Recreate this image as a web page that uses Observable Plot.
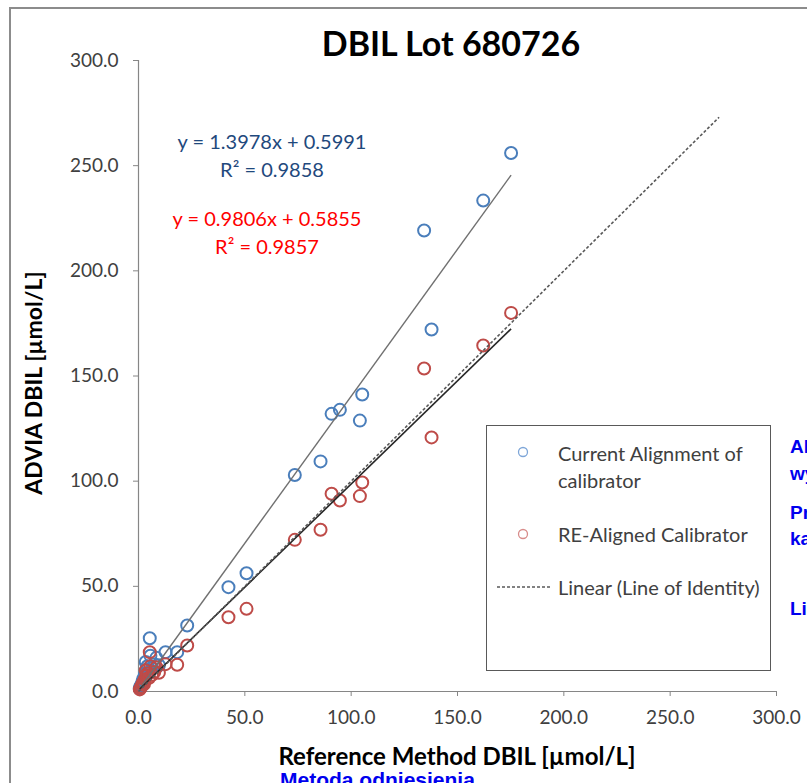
<!DOCTYPE html>
<html><head><meta charset="utf-8">
<script src="https://cdn.jsdelivr.net/npm/d3@7"></script>
<script src="https://cdn.jsdelivr.net/npm/@observablehq/plot@0.6"></script>
<style>
html,body{margin:0;padding:0;background:#fff;}
#wrap{position:relative;width:807px;height:783px;overflow:hidden;font-family:Lato,"Open Sans",sans-serif;}
.abs{position:absolute;white-space:nowrap;line-height:1;}
.pl{color:#0000ee;font-family:"Liberation Sans",Arial,sans-serif;font-weight:bold;font-size:19px;}
</style></head>
<body><div id="wrap"></div>
<script>
// Reference method DBIL (µmol/L), shared by both series
const refX = [175.2,162.1,134.3,137.8,105.2,94.7,90.8,104.1,85.6,73.5,50.8,42.3,22.9,18.2,12.7,5.3,
  0.6,1.0,1.4,1.8,2.2,2.6,3.0,3.4,3.8,4.2,5.0,5.6,6.4,7.4,8.4,9.6];
// ADVIA DBIL, current alignment of calibrator
const currentY = [256.0,233.4,219.2,172.1,141.2,133.9,132.0,128.8,109.4,102.9,56.2,49.6,31.4,18.7,18.7,25.3,
  1.5,2.5,3.0,4.5,6.0,5.0,8.0,14.0,10.5,12.0,9.0,17.0,11.0,13.0,16.0,12.5];
// ADVIA DBIL, re-aligned calibrator
const realignedY = [180.0,164.5,153.6,120.8,99.4,90.8,94.0,92.9,76.9,72.1,39.3,35.3,21.9,12.7,13.0,18.7,
  1.0,1.8,2.3,3.4,4.3,3.6,5.8,10.0,7.5,8.6,6.5,12.0,7.9,9.3,11.5,8.9];
// Trend line equations
const fitCurrent = {slope: 1.3978, intercept: 0.5991, r2: 0.9858};
const fitRealigned = {slope: 0.9806, intercept: 0.5855, r2: 0.9857};
const identityExtent = [0, 273];
const xTicks = [0,50,100,150,200,250,300];
const yTicks = [0,50,100,150,200,250,300];

const currentData = refX.map((x,i)=>({x, y: currentY[i]}));
const realignedData = refX.map((x,i)=>({x, y: realignedY[i]}));
const [xmin, xmax] = d3.extent(refX);
const fitLines = [fitCurrent, fitRealigned].map(f=>({x1:xmin, y1:f.slope*xmin+f.intercept, x2:xmax, y2:f.slope*xmax+f.intercept}));

const fmt = d=>d.toFixed(1);
const chart = Plot.plot({
  width: 807, height: 783,
  marginLeft: 138, marginRight: 31, marginTop: 60, marginBottom: 92,
  style: {fontFamily: "Lato, sans-serif", fontSize: "19px", color: "#404040", background: "transparent", overflow: "visible"},
  x: {domain: [0,300]},
  y: {domain: [0,300]},
  marks: [
    Plot.ruleX([0], {stroke: "#868686", strokeWidth: 1.2}),
    Plot.ruleY([0], {stroke: "#868686", strokeWidth: 1.2}),
    Plot.axisY({ticks: yTicks, tickFormat: fmt, tickSize: 5, tickPadding: 15, stroke: "#868686", fill: "#404040", label: null}),
    Plot.axisX({ticks: xTicks, tickFormat: fmt, tickSize: 5, tickPadding: 14, stroke: "#868686", fill: "#404040", label: null}),
    Plot.dot(currentData, {x: "x", y: "y", r: 6, stroke: "#4a7ebb", strokeWidth: 2, fill: "none"}),
    Plot.dot(realignedData, {x: "x", y: "y", r: 6, stroke: "#be4b48", strokeWidth: 2, fill: "none"}),
    Plot.link([fitLines[0]], {x1:"x1", y1:"y1", x2:"x2", y2:"y2", stroke: "#707070", strokeWidth: 1.4}),
    Plot.link([fitLines[1]], {x1:"x1", y1:"y1", x2:"x2", y2:"y2", stroke: "#262626", strokeWidth: 1.6}),
    Plot.link([{a: identityExtent[0], b: identityExtent[1]}], {x1:"a", y1:"a", x2:"b", y2:"b", stroke: "#595959", strokeWidth: 1.6, strokeDasharray: "3,2"})
  ]
});
chart.style.position = "absolute"; chart.style.left = "0"; chart.style.top = "0";
const wrap = document.getElementById("wrap");
wrap.appendChild(chart);

function addText(txt, css){ const d=document.createElement("div"); d.className="abs"; d.textContent=txt; Object.assign(d.style, css); wrap.appendChild(d); return d; }
// slide border
const b=document.createElement("div"); Object.assign(b.style,{position:"absolute",left:"9px",top:"7px",width:"900px",height:"900px",borderLeft:"2px solid #8c8c8c",borderTop:"2px solid #8c8c8c"}); wrap.insertBefore(b, chart);

addText("DBIL Lot 680726", {left:"451px", top:"26px", transform:"translateX(-50%)", fontSize:"34px", fontWeight:"bold", color:"#000"});
addText(`y = ${fitCurrent.slope}x + ${fitCurrent.intercept}`, {left:"272px", top:"141px", transform:"translate(-50%,-50%)", fontSize:"20px", color:"#1f497d"});
addText(`R² = ${fitCurrent.r2}`, {left:"272px", top:"169px", transform:"translate(-50%,-50%)", fontSize:"20px", color:"#1f497d"});
addText(`y = ${fitRealigned.slope}x + ${fitRealigned.intercept}`, {left:"267px", top:"218px", transform:"translate(-50%,-50%)", fontSize:"20px", color:"#ff0000"});
addText(`R² = ${fitRealigned.r2}`, {left:"267px", top:"246px", transform:"translate(-50%,-50%)", fontSize:"20px", color:"#ff0000"});
addText("ADVIA DBIL [µmol/L]", {left:"33px", top:"383px", transform:"translate(-50%,-50%) rotate(-90deg)", fontSize:"23px", fontWeight:"bold", color:"#000"});
addText("Reference Method DBIL [µmol/L]", {left:"457px", top:"756px", transform:"translate(-50%,-50%)", fontSize:"24px", fontWeight:"bold", color:"#000"});
const m = addText("Metoda odniesienia", {left:"280px", top:"769px"}); m.classList.add("pl"); m.style.fontSize="21px";

// legend
const lg=document.createElement("div"); Object.assign(lg.style,{position:"absolute",left:"486px",top:"425px",width:"283px",height:"244px",border:"1px solid #595959",background:"#fff"}); wrap.appendChild(lg);
const ls = d3.create("svg").attr("width",807).attr("height",783).style("position","absolute").style("left","0").style("top","0");
ls.append("circle").attr("cx",523).attr("cy",452).attr("r",4.5).attr("fill","none").attr("stroke","#7ea6d8").attr("stroke-width",1.3);
ls.append("circle").attr("cx",523).attr("cy",534).attr("r",4.5).attr("fill","none").attr("stroke","#d88c8a").attr("stroke-width",1.3);
ls.append("line").attr("x1",497).attr("x2",552).attr("y1",587).attr("y2",587).attr("stroke","#595959").attr("stroke-width",1.3).attr("stroke-dasharray","3,2");
wrap.appendChild(ls.node());
const lt = {fontSize:"20px", color:"#404040", transform:"translateY(-50%)"};
addText("Current Alignment of", {...lt, left:"558px", top:"453px"});
addText("calibrator", {...lt, left:"558px", top:"480px"});
addText("RE-Aligned Calibrator", {...lt, left:"558px", top:"534px"});
addText("Linear (Line of Identity)", {...lt, left:"558px", top:"587px"});

// Polish overlay notes (cut off at the right edge, as in the source slide)
[["Aktualne",446],["wyrównanie kalibratora",473],["Przeskalowany",512],["kalibrator",538],["Linia identyczności",608]].forEach(([t,y])=>{
  const d=addText(t,{left:"790px", top:y+"px", transform:"translateY(-50%)"}); d.classList.add("pl");
});
</script></body></html>
